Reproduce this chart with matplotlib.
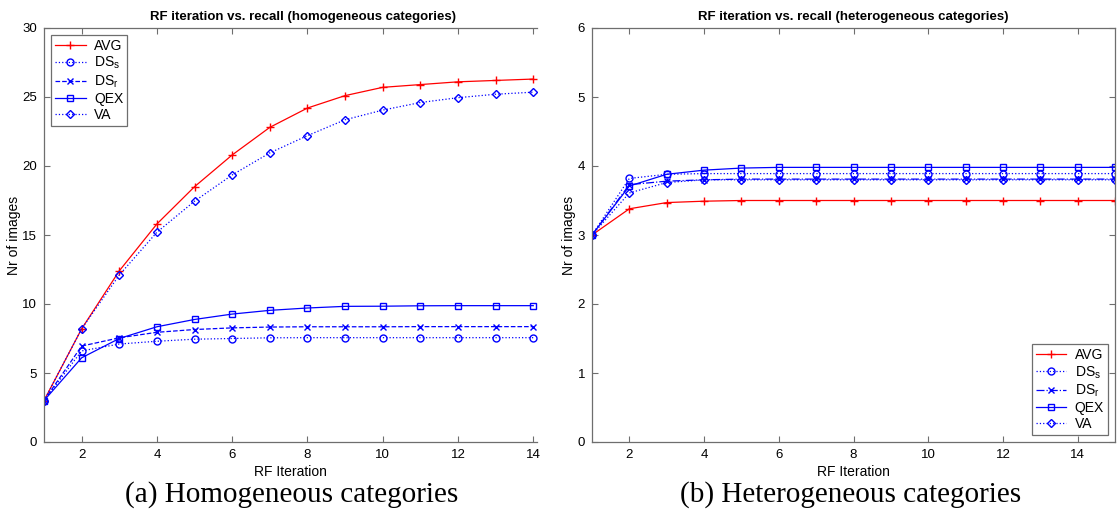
import matplotlib
matplotlib.use("Agg")
import matplotlib.pyplot as plt

plt.rcParams['font.family'] = ['Liberation Sans', 'DejaVu Sans']
plt.rcParams['mathtext.fontset'] = 'custom'
plt.rcParams['mathtext.rm'] = 'Liberation Sans'

# RF iteration vs. recall, homogeneous categories (left)
iter_hom = [1, 2, 3, 4, 5, 6, 7, 8, 9, 10, 11, 12, 13, 14]
hom_avg = [3.0, 8.2, 12.4, 15.8, 18.5, 20.8, 22.8, 24.2, 25.1, 25.7, 25.9, 26.1, 26.2, 26.3]
hom_dss = [3.0, 6.6, 7.1, 7.3, 7.45, 7.5, 7.55, 7.56, 7.56, 7.56, 7.56, 7.56, 7.56, 7.56]
hom_dsr = [3.0, 6.95, 7.55, 7.95, 8.15, 8.27, 8.33, 8.35, 8.35, 8.35, 8.36, 8.36, 8.36, 8.36]
hom_qex = [3.0, 6.1, 7.5, 8.35, 8.88, 9.27, 9.54, 9.71, 9.83, 9.84, 9.87, 9.88, 9.88, 9.88]
hom_va = [3.0, 8.2, 12.1, 15.2, 17.45, 19.35, 20.95, 22.2, 23.35, 24.05, 24.6, 24.95, 25.2, 25.35]

# RF iteration vs. recall, heterogeneous categories (right)
iter_het = [1, 2, 3, 4, 5, 6, 7, 8, 9, 10, 11, 12, 13, 14, 15]
het_avg = [3.0, 3.38, 3.47, 3.49, 3.5, 3.5, 3.5, 3.5, 3.5, 3.5, 3.5, 3.5, 3.5, 3.5, 3.5]
het_dss = [3.0, 3.82, 3.88, 3.89, 3.89, 3.89, 3.89, 3.89, 3.89, 3.89, 3.89, 3.89, 3.89, 3.89, 3.89]
het_dsr = [3.0, 3.73, 3.78, 3.8, 3.81, 3.81, 3.81, 3.81, 3.81, 3.81, 3.81, 3.81, 3.81, 3.81, 3.81]
het_qex = [3.0, 3.71, 3.88, 3.94, 3.97, 3.98, 3.98, 3.98, 3.98, 3.98, 3.98, 3.98, 3.98, 3.98, 3.98]
het_va = [3.0, 3.61, 3.76, 3.8, 3.8, 3.8, 3.8, 3.8, 3.8, 3.8, 3.8, 3.8, 3.8, 3.8, 3.8]

labels = ['AVG', r'DS$_\mathregular{s}$', r'DS$_\mathregular{r}$', 'QEX', 'VA']

W, H = 1117, 519
fig = plt.figure(figsize=(W / 100, H / 100), dpi=100)
ax1 = fig.add_axes([44 / W, 77 / H, 493 / W, 414 / H])
ax2 = fig.add_axes([592 / W, 77 / H, 523 / W, 414 / H])

spine_col = '#6e6e6e'
lw = 0.9
ms = 5


def draw(ax, x, avg, dss, dsr, qex, va, dsr_style):
    ax.plot(x, avg, color='red', ls='-', marker='+', ms=ms + 1, lw=lw, label=labels[0])
    ax.plot(x, dss, color='blue', ls=':', marker='o', ms=ms, mfc='none', lw=lw, label=labels[1])
    ax.plot(x, dsr, color='blue', ls=dsr_style, marker='x', ms=ms - 1, lw=lw, label=labels[2])
    ax.plot(x, qex, color='blue', ls='-', marker='s', ms=ms, mfc='none', lw=lw, label=labels[3])
    ax.plot(x, va, color='blue', ls=':', marker='D', ms=ms - 0.5, mfc='none', lw=lw, label=labels[4])
    ax.set_xticks([2, 4, 6, 8, 10, 12, 14])
    ax.tick_params(direction='in', top=True, right=True, length=4, width=0.8,
                   color=spine_col, labelsize=9.5, pad=5)
    for s in ax.spines.values():
        s.set_color(spine_col)
        s.set_linewidth(0.9)
    ax.set_xlabel('RF Iteration', fontsize=10, labelpad=3)
    ax.set_ylabel('Nr of images', fontsize=10, labelpad=1)


def add_legend(ax, loc):
    leg = ax.legend(loc=loc, fontsize=10, handlelength=2.2, fancybox=False,
                    edgecolor=spine_col, framealpha=1, borderaxespad=0.5,
                    labelspacing=0.14, borderpad=0.3, handletextpad=0.6)
    leg.get_frame().set_linewidth(0.9)


draw(ax1, iter_hom, hom_avg, hom_dss, hom_dsr, hom_qex, hom_va, '--')
ax1.set_xlim(1, 14.1)
ax1.set_ylim(0, 30)
ax1.set_yticks([0, 5, 10, 15, 20, 25, 30])
ax1.spines['right'].set_visible(False)
ax1.tick_params(right=False)
ax1.set_title('RF iteration vs. recall (homogeneous categories)', fontsize=9.5,
              fontweight='bold', x=0.525, pad=6)
add_legend(ax1, 'upper left')

draw(ax2, iter_het, het_avg, het_dss, het_dsr, het_qex, het_va, '-.')
ax2.set_xlim(1, 15)
ax2.set_ylim(0, 6)
ax2.set_yticks([0, 1, 2, 3, 4, 5, 6])
ax2.set_title('RF iteration vs. recall (heterogeneous categories)', fontsize=9.5,
              fontweight='bold', pad=6)
add_legend(ax2, 'lower right')

fig.text(292 / W, 1 - 495 / H, '(a) Homogeneous categories', family='Liberation Serif',
         fontsize=21, ha='center', va='center')
fig.text(851 / W, 1 - 495 / H, '(b) Heterogeneous categories', family='Liberation Serif',
         fontsize=21, ha='center', va='center')

fig.savefig('out.png', dpi=100)
